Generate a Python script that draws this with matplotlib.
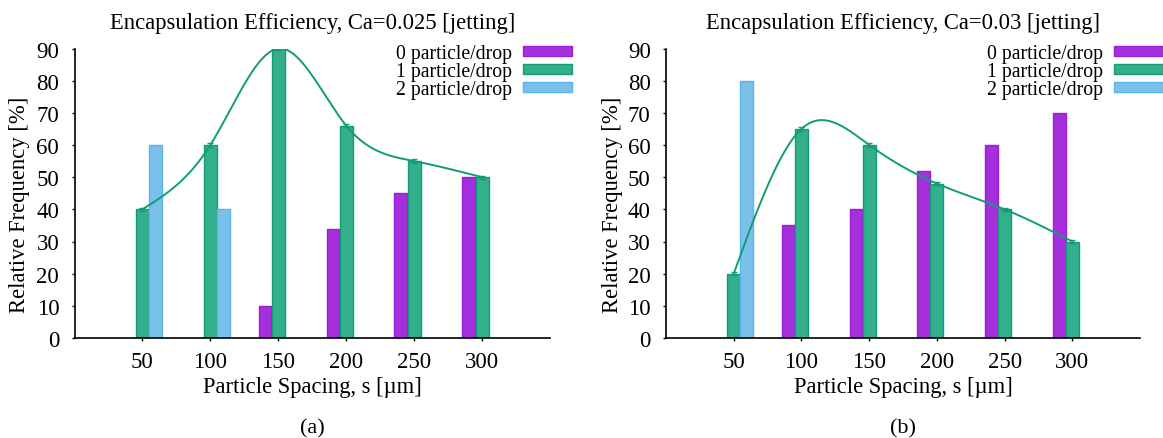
import numpy as np
import matplotlib
matplotlib.use('Agg')
import matplotlib.pyplot as plt

plt.rcParams['font.family'] = ['Liberation Serif', 'DejaVu Serif']

spacing = [50, 100, 150, 200, 250, 300]
labels = ['0 particle/drop', '1 particle/drop', '2 particle/drop']

# Ca = 0.025
a_zero = [0, 0, 10, 34, 45, 50]
a_one = [40, 60, 90, 66, 55, 50]
a_two = [60, 40, 0, 0, 0, 0]

# Ca = 0.03
b_zero = [0, 35, 40, 52, 60, 70]
b_one = [20, 65, 60, 48, 40, 30]
b_two = [80, 0, 0, 0, 0, 0]

one_err = 0.5

fills = ['#a52fdc', '#33af8c', '#79c1eb']
edges = ['#9a1ed6', '#139c77', '#5cb5e8']
curve_col = '#129c76'


def natural_spline(x, y, xs):
    # natural cubic spline, same as gnuplot "smooth csplines"
    x = np.asarray(x, float)
    y = np.asarray(y, float)
    n = len(x)
    h = np.diff(x)
    A = np.zeros((n, n))
    r = np.zeros(n)
    A[0, 0] = A[-1, -1] = 1
    for i in range(1, n - 1):
        A[i, i - 1] = h[i - 1]
        A[i, i] = 2 * (h[i - 1] + h[i])
        A[i, i + 1] = h[i]
        r[i] = 6 * ((y[i + 1] - y[i]) / h[i] - (y[i] - y[i - 1]) / h[i - 1])
    M = np.linalg.solve(A, r)
    out = np.empty_like(xs)
    for k, t in enumerate(xs):
        i = min(np.searchsorted(x, t, side='right') - 1, n - 2)
        i = max(i, 0)
        a = (x[i + 1] - t) / h[i]
        b = (t - x[i]) / h[i]
        out[k] = (a * y[i] + b * y[i + 1]
                  + ((a ** 3 - a) * M[i] + (b ** 3 - b) * M[i + 1]) * h[i] ** 2 / 6)
    return out


fig = plt.figure(figsize=(11.63, 4.39), dpi=100)
W, H = 1163, 439
axes_px = [(74.5, 550), (666, 1140)]
panels = [
    ('Encapsulation Efficiency, Ca=0.025 [jetting]', a_zero, a_one, a_two, '(a)', 572, 30),
    ('Encapsulation Efficiency, Ca=0.03 [jetting]', b_zero, b_one, b_two, '(b)', 1163, 623),
]

w = 0.19
idx = np.arange(len(spacing))
for (x0, x1), (title, zero, one, two, tag, leg_r, ylab_r) in zip(axes_px, panels):
    ax = fig.add_axes([x0 / W, (H - 339) / H, (x1 - x0) / W, (339 - 49.5) / H])
    handles = []
    for off, vals, fc, ec, lab in zip([-0.195, 0, 0.195], [zero, one, two], fills, edges, labels):
        v = np.array(vals, float)
        keep = v > 0
        b = ax.bar(idx[keep] + off, v[keep], width=w, color=fc, edgecolor=ec,
                   linewidth=1.0, label=lab, zorder=2)
        handles.append(b)
    ax.errorbar(idx, one, yerr=one_err, fmt='none', ecolor=edges[1],
                elinewidth=1.0, capsize=2.5, capthick=1.0, zorder=3)
    xs = np.linspace(0, len(spacing) - 1, 400)
    ax.plot(xs, natural_spline(idx, one, xs), color=curve_col, lw=1.4, zorder=4)

    ax.set_xlim(-1.0, 6.0)
    ax.set_ylim(0, 90)
    ax.set_yticks(range(0, 91, 10))
    ax.set_xticks(idx)
    ax.set_xticklabels([str(s) for s in spacing])
    ax.tick_params(direction='out', length=2.5, width=1, labelsize=16.5)
    ax.tick_params(axis='y', pad=8.5)
    ax.tick_params(axis='x', pad=7)
    for s in ['top', 'right']:
        ax.spines[s].set_visible(False)
    for s in ['left', 'bottom']:
        ax.spines[s].set_linewidth(1.2)
    ax.set_title(title, fontsize=16.3, pad=14.5)
    ax.set_xlabel('Particle Spacing, s [µm]', fontsize=16.3, labelpad=3)
    ax.set_ylabel('Relative Frequency [%]', fontsize=16.3)
    ax.yaxis.set_label_coords((ylab_r - x0) / (x1 - x0), 0.465)

    fig.legend(handles=handles, loc='upper right',
               bbox_to_anchor=(leg_r / W, 1 - 45 / H), frameon=False,
               markerfirst=False, fontsize=14.2, handlelength=2.5, handleheight=0.45,
               labelspacing=-0.05, handletextpad=0.55, borderpad=0, borderaxespad=0)
    fig.text((x0 + x1) / 2 / W, 1 - 429 / H, tag, ha='center', va='center', fontsize=16)

fig.savefig('out.png', dpi=100)
